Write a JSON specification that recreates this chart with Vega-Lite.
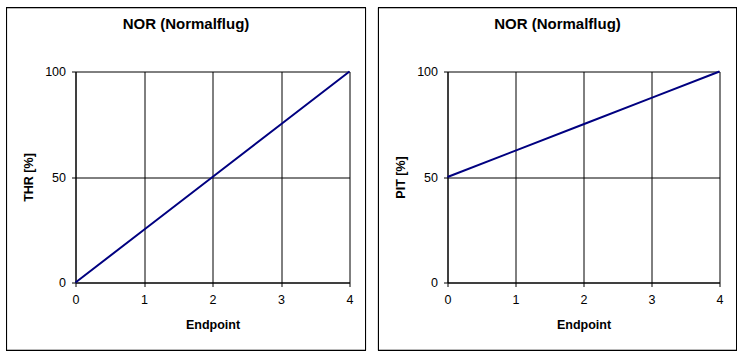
{
  "$schema": "https://vega.github.io/schema/vega-lite/v6.json",
  "padding": {"left": 5.5, "top": 6.5, "right": 0, "bottom": 0},
  "autosize": {"type": "pad"},
  "spacing": 11,
  "background": "white",
  "data": {
    "values": [
      {"Endpoint": 0, "THR": 0, "PIT": 50},
      {"Endpoint": 1, "THR": 25, "PIT": 62.5},
      {"Endpoint": 2, "THR": 50, "PIT": 75},
      {"Endpoint": 3, "THR": 75, "PIT": 87.5},
      {"Endpoint": 4, "THR": 100, "PIT": 100}
    ]
  },
  "config": {
    "font": "Liberation Sans",
    "view": {"stroke": null},
    "axis": {
      "domainColor": "black",
      "tickColor": "black",
      "gridColor": "black",
      "gridOpacity": 1,
      "gridWidth": 1,
      "domainWidth": 1,
      "tickWidth": 1,
      "labelColor": "black",
      "titleColor": "black",
      "labelFont": "Liberation Sans",
      "titleFont": "Liberation Sans",
      "labelFontSize": 12.5,
      "titleFontSize": 12.5,
      "titleFontWeight": "bold",
      "labelFlush": false,
      "tickSize": 4
    },
    "axisX": {"labelPadding": 7, "titlePadding": 12},
    "axisY": {"labelPadding": 6, "titlePadding": 9},
    "title": {
      "font": "Liberation Sans",
      "fontSize": 15,
      "fontWeight": "bold",
      "color": "black",
      "anchor": "middle",
      "frame": "bounds",
      "baseline": "alphabetic",
      "offset": -24.5
    }
  },
  "hconcat": [
    {
      "width": 274,
      "height": 211,
      "title": "NOR (Normalflug)",
      "layer": [
        {
          "mark": {"type": "line", "color": "#000080", "strokeWidth": 2},
          "encoding": {
            "x": {"field": "Endpoint", "type": "quantitative", "scale": {"domain": [0, 4], "nice": false}, "axis": {"values": [0, 1, 2, 3, 4], "title": "Endpoint", "grid": true}},
            "y": {"field": "THR", "type": "quantitative", "scale": {"domain": [0, 100], "nice": false}, "axis": {"values": [0, 50, 100], "title": "THR [%]", "grid": true}}
          }
        },
        {
          "mark": {"type": "rect", "filled": false, "stroke": "black", "strokeWidth": 1, "clip": false},
          "encoding": {
            "x": {"datum": -1.007, "type": "quantitative", "scale": {"domain": [0, 4], "nice": false}, "axis": {"values": [0, 1, 2, 3, 4], "title": "Endpoint", "grid": true}},
            "x2": {"datum": 4.234},
            "y": {"datum": 130.3, "type": "quantitative", "scale": {"domain": [0, 100], "nice": false}, "axis": {"values": [0, 50, 100], "title": "THR [%]", "grid": true}},
            "y2": {"datum": -32.2}
          }
        }
      ]
    },
    {
      "width": 272,
      "height": 211,
      "title": "NOR (Normalflug)",
      "layer": [
        {
          "mark": {"type": "line", "color": "#000080", "strokeWidth": 2},
          "encoding": {
            "x": {"field": "Endpoint", "type": "quantitative", "scale": {"domain": [0, 4], "nice": false}, "axis": {"values": [0, 1, 2, 3, 4], "title": "Endpoint", "grid": true}},
            "y": {"field": "PIT", "type": "quantitative", "scale": {"domain": [0, 100], "nice": false}, "axis": {"values": [0, 50, 100], "title": "PIT [%]", "grid": true}}
          }
        },
        {
          "mark": {"type": "rect", "filled": false, "stroke": "black", "strokeWidth": 1, "clip": false},
          "encoding": {
            "x": {"datum": -1.015, "type": "quantitative", "scale": {"domain": [0, 4], "nice": false}, "axis": {"values": [0, 1, 2, 3, 4], "title": "Endpoint", "grid": true}},
            "x2": {"datum": 4.25},
            "y": {"datum": 130.3, "type": "quantitative", "scale": {"domain": [0, 100], "nice": false}, "axis": {"values": [0, 50, 100], "title": "PIT [%]", "grid": true}},
            "y2": {"datum": -32.2}
          }
        }
      ]
    }
  ]
}
